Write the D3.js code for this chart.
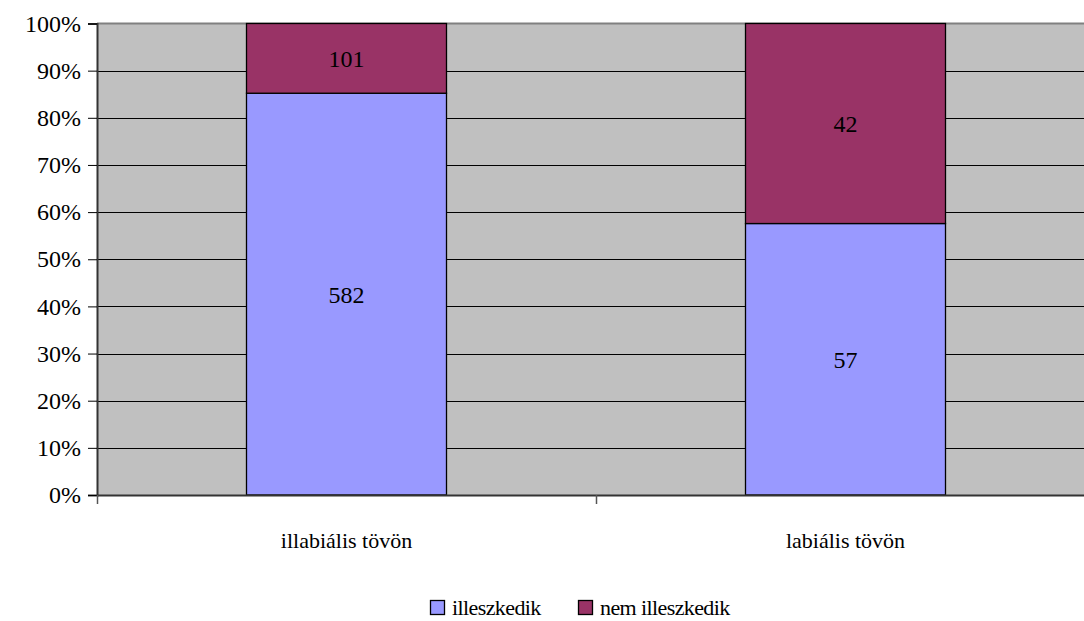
<!DOCTYPE html>
<html><head><meta charset="utf-8">
<script src="https://cdn.jsdelivr.net/npm/d3@7"></script>
<style>body{margin:0;background:#fff} #c text{font-family:"Liberation Serif",serif !important}</style>
</head><body>
<svg id="c" width="1084" height="621"></svg>
<script>
const categories = ["illabiális tövön", "labiális tövön"];
const seriesNames = ["illeszkedik", "nem illeszkedik"];
const illeszkedik = [582, 57];
const nemIlleszkedik = [101, 42];
const yTicks = [0, 0.1, 0.2, 0.3, 0.4, 0.5, 0.6, 0.7, 0.8, 0.9, 1.0];
const colors = ["#9999FF", "#993366"];
const FONT = "Liberation Serif";

const svg = d3.select("#c");
const L = 97, R = 1095, T = 23.5, B = 495;
const x = d3.scaleBand().domain(categories).range([L, R]).paddingInner(0).paddingOuter(0);
const y = d3.scaleLinear().domain([0, 1]).range([B, T]);

svg.append("rect").attr("x", L).attr("y", T).attr("width", R - L).attr("height", B - T).attr("fill", "#C0C0C0");
svg.append("line").attr("x1", L).attr("x2", R).attr("y1", T).attr("y2", T).attr("stroke", "#808080").attr("stroke-width", 2);

svg.append("g").selectAll("line").data(yTicks.slice(1, -1)).join("line")
  .attr("x1", L).attr("x2", R).attr("y1", d => Math.round(y(d)) + 0.5).attr("y2", d => Math.round(y(d)) + 0.5)
  .attr("stroke", "#000").attr("stroke-width", 1);

const data = categories.map((c, i) => ({cat: c, vals: [illeszkedik[i], nemIlleszkedik[i]]}));
const barW = 200;
data.forEach(d => {
  const tot = d.vals[0] + d.vals[1];
  let acc = 0;
  d.vals.forEach((v, k) => {
    const y0 = acc / tot, y1 = (acc + v) / tot;
    acc += v;
    const cx = x(d.cat) + x.bandwidth() / 2;
    svg.append("rect").attr("x", cx - barW / 2).attr("y", y(y1)).attr("width", barW).attr("height", y(y0) - y(y1))
      .attr("fill", colors[k]).attr("stroke", "#000").attr("stroke-width", 1.3);
    svg.append("text").attr("x", cx).attr("y", (y(y0) + y(y1)) / 2).attr("dy", "0.35em")
      .attr("text-anchor", "middle").style("font-size", "24px").style("font-family", FONT).attr("fill", "#000").text(v);
  });
});

const yAxis = d3.axisLeft(y).tickValues(yTicks).tickFormat(d3.format(".0%")).tickSize(9).tickPadding(6);
const ga = svg.append("g").attr("transform", `translate(${L},0)`).call(yAxis);
ga.select(".domain").attr("stroke", "#333").attr("stroke-width", 2);
ga.selectAll(".tick line").attr("stroke", "#000");
ga.selectAll("text").style("font-size", "24px").style("font-family", FONT).attr("fill", "#000").attr("dx", -1);

const xAxis = d3.axisBottom(x).tickSize(0).tickFormat("");
const gx = svg.append("g").attr("transform", `translate(0,${B})`).call(xAxis);
gx.select(".domain").attr("stroke", "#333").attr("stroke-width", 2);
gx.selectAll(".tick").remove();
svg.append("g").selectAll("line").data(categories).join("line")
  .attr("x1", d => x(d) + 0.5).attr("x2", d => x(d) + 0.5).attr("y1", B).attr("y2", B + 9).attr("stroke", "#555").attr("stroke-width", 1.5);
svg.append("g").selectAll("text").data(categories).join("text")
  .attr("x", d => x(d) + x.bandwidth() / 2).attr("y", 548).attr("text-anchor", "middle")
  .style("font-size", "22px").style("font-family", FONT).attr("fill", "#000").text(d => d);

const lg = svg.append("g");
const items = [{n: seriesNames[0], c: colors[0], x: 430}, {n: seriesNames[1], c: colors[1], x: 578}];
items.forEach(it => {
  lg.append("rect").attr("x", it.x + 0.5).attr("y", 600.5).attr("width", 14).attr("height", 14).attr("fill", it.c).attr("stroke", "#000").attr("stroke-width", 1.3);
  lg.append("text").attr("x", it.x + 22).attr("y", 615).style("font-size", "22px").style("font-family", FONT).attr("fill", "#000").attr("letter-spacing", -0.6).text(it.n);
});
</script>
</body></html>
